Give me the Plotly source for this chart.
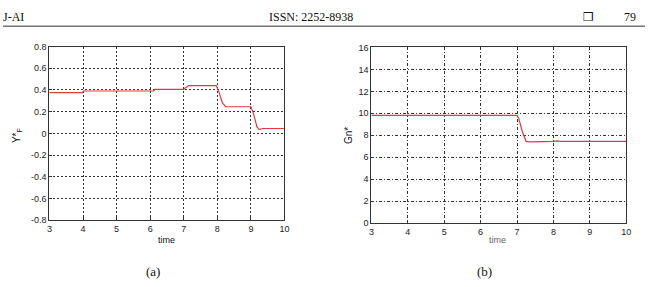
import plotly.graph_objects as go

# ---- data ----
t_a = [3, 3.98, 4.02, 6.1, 6.15, 7.0, 7.05, 7.15, 7.97, 8.05, 8.15, 8.25, 9.0, 9.08, 9.18, 9.25, 9.35, 10]
y_a = [0.375, 0.375, 0.39, 0.39, 0.405, 0.405, 0.42, 0.44, 0.44, 0.38, 0.28, 0.245, 0.245, 0.18, 0.06, 0.035, 0.045, 0.045]

t_b = [3, 7.0, 7.05, 7.15, 7.25, 7.35, 8.0, 8.1, 8.2, 9.0, 9.1, 9.2, 10]
y_b = [9.82, 9.82, 9.5, 8.3, 7.45, 7.4, 7.45, 7.5, 7.45, 7.45, 7.5, 7.45, 7.45]

x_ticks = [3, 4, 5, 6, 7, 8, 9, 10]
ya_ticks = [-0.8, -0.6, -0.4, -0.2, 0, 0.2, 0.4, 0.6, 0.8]
ya_labels = ["-0.8", "-0.6", "-0.4", "-0.2", "0", "0.2", "0.4", "0.6", "0.8"]
yb_ticks = [0, 2, 4, 6, 8, 10, 12, 14, 16]

W, H = 650, 287
RED = "#e23a3a"

fig = go.Figure()
fig.add_trace(go.Scatter(x=t_a, y=y_a, mode="lines", line=dict(color=RED, width=1.2),
                         xaxis="x", yaxis="y", showlegend=False))
fig.add_trace(go.Scatter(x=t_b, y=y_b, mode="lines", line=dict(color=RED, width=1.2),
                         xaxis="x2", yaxis="y2", showlegend=False))

tickfont = dict(family="Arial, Liberation Sans, sans-serif", size=9, color="#222")
ax_common = dict(showline=True, linecolor="#333", linewidth=1, mirror=True,
                 ticks="inside", ticklen=3, tickcolor="#333", zeroline=False,
                 showgrid=True, gridcolor="#333", gridwidth=0.8, tickfont=tickfont)

fig.update_layout(
    width=W, height=H, margin=dict(l=0, r=0, t=0, b=0),
    paper_bgcolor="white", plot_bgcolor="white",
    xaxis=dict(domain=[47 / W, 285 / W], range=[3, 10], tickvals=x_ticks,
               griddash="2px,2px", anchor="y", **ax_common),
    yaxis=dict(domain=[1 - 223 / H, 1 - 43 / H], range=[-0.8, 0.8], tickvals=ya_ticks,
               ticktext=ya_labels, griddash="2px,2px", anchor="x", **ax_common),
    xaxis2=dict(domain=[373 / W, 631 / W], range=[3, 10], tickvals=x_ticks,
                griddash="3px,2px,1px,2px", anchor="y2", **ax_common),
    yaxis2=dict(domain=[1 - 226 / H, 1 - 44 / H], range=[0, 16], tickvals=yb_ticks,
                griddash="3px,2px,1px,2px", anchor="x2", **ax_common),
)

serif = "Times New Roman, Liberation Serif, serif"
sans = "Arial, Liberation Sans, sans-serif"

def ann(text, x, y, size, family, xanchor="center", textangle=0, color="#111"):
    fig.add_annotation(text=text, x=x / W, y=1 - y / H, xref="paper", yref="paper",
                       showarrow=False, xanchor=xanchor, yanchor="middle",
                       textangle=textangle, font=dict(size=size, family=family, color=color))

# header
ann("J-AI", -2, 12, 12, serif, xanchor="left")
ann("ISSN: 2252-8938", 312, 12, 12, serif)
ann("❒", 593, 12, 12, "DejaVu Sans")
ann("79", 635, 12, 12, serif)
fig.add_shape(type="line", xref="paper", yref="paper", x0=0, x1=1,
              y0=1 - 22 / H, y1=1 - 22 / H, line=dict(color="#777", width=1.5))

# axis titles
ann("time", 166, 243, 9, sans)
ann("time", 501, 244, 9, sans, color="#666")
ann("Y*<sub>F</sub>", 14, 135, 10, sans, textangle=-90)
ann("Gn*", 350, 135, 10, sans, textangle=-90)

# captions
ann("(a)", 152, 276, 13, serif)
ann("(b)", 488, 276, 13, serif)

fig.write_html("out.html")
